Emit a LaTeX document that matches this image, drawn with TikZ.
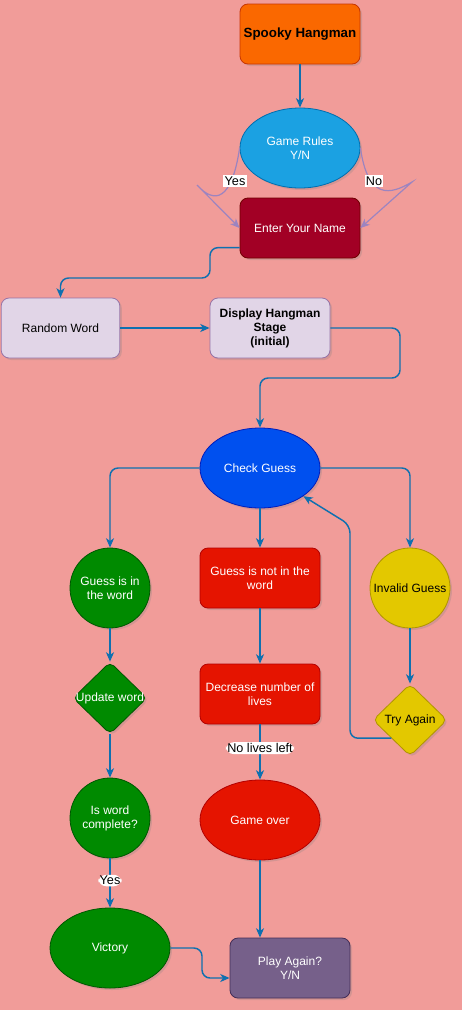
\documentclass[tikz,border=0pt]{standalone}
\usepackage{fontspec}
\setmainfont{Liberation Sans}
\usetikzlibrary{shapes.geometric,arrows.meta,shadows}

\definecolor{bgpink}{HTML}{F19C99}
\definecolor{edgeblue}{HTML}{0F70B0}
\definecolor{curvelilac}{HTML}{9C84C0}
\definecolor{orangefill}{HTML}{FA6800}
\definecolor{orangeline}{HTML}{C73500}
\definecolor{skyfill}{HTML}{1BA1E2}
\definecolor{skyline}{HTML}{006EAF}
\definecolor{crimsonfill}{HTML}{A20025}
\definecolor{crimsonline}{HTML}{6F0000}
\definecolor{lilacfill}{HTML}{E1D5E7}
\definecolor{lilacline}{HTML}{9673A6}
\definecolor{cobaltfill}{HTML}{0050EF}
\definecolor{cobaltline}{HTML}{001DBC}
\definecolor{greenfill}{HTML}{008A00}
\definecolor{greenline}{HTML}{005700}
\definecolor{redfill}{HTML}{E51400}
\definecolor{redline}{HTML}{B20000}
\definecolor{yellowfill}{HTML}{E3C800}
\definecolor{yellowline}{HTML}{B09500}
\definecolor{violetfill}{HTML}{76608A}
\definecolor{violetline}{HTML}{432D57}

\begin{document}
\begin{tikzpicture}[x=0.75pt,y=0.75pt,yscale=-1,xscale=1,
  shade/.style={drop shadow={shadow xshift=1.5pt,shadow yshift=-1.5pt,opacity=0.25}},
  box/.style={draw,shade,rounded corners=6pt,minimum width=90pt,minimum height=45pt,align=center,inner sep=1pt,line width=0.6pt,font=\fontsize{9}{10.5}\selectfont},
  oval/.style={ellipse,draw,shade,minimum width=90pt,minimum height=60pt,align=center,inner sep=1pt,line width=0.6pt,font=\fontsize{9}{10.5}\selectfont},
  disc/.style={circle,draw,shade,minimum size=60pt,align=center,inner sep=0pt,line width=0.6pt,font=\fontsize{9}{10.5}\selectfont},
  gem/.style={diamond,draw,shade,minimum width=55.5pt,minimum height=54pt,inner sep=0pt,rounded corners=4pt,line width=0.6pt},
  gemtext/.style={font=\fontsize{9}{10.5}\selectfont},
  flow/.style={draw=edgeblue,line width=1.1pt,rounded corners=6pt,-{Stealth[length=7pt,width=6pt,inset=2pt]}},
  curvy/.style={draw=curvelilac,line width=0.9pt,-{Stealth[length=7pt,width=6pt,inset=2pt]}},
  tag/.style={fill=white,inner sep=1pt,font=\fontsize{9.5}{11}\selectfont}]

% background
\fill[bgpink] (0,0) rectangle (462,1010);
\useasboundingbox (0,0) rectangle (462,1010);

% Start, rules and name
\node[box,fill=orangefill,draw=orangeline,font=\fontsize{10}{12}\selectfont\bfseries] (spooky) at (300,34) {Spooky Hangman};
\node[oval,fill=skyfill,draw=skyline,text=white] (rules) at (300,148) {Game Rules\\Y/N};
\node[box,fill=crimsonfill,draw=crimsonline,text=white] (name) at (300,228) {Enter Your Name};

% Word and stage
\node[box,fill=lilacfill,draw=lilacline,minimum width=89pt] (word) at (60.5,328) {Random Word};
\node[box,fill=lilacfill,draw=lilacline,font=\fontsize{9}{10.5}\selectfont\bfseries] (stage) at (270,328) {Display Hangman\\Stage\\(initial)};

% Guess check
\node[oval,fill=cobaltfill,draw=cobaltline,text=white] (check) at (260,468) {Check Guess};
\node[disc,fill=greenfill,draw=greenline,text=white] (inword) at (110,588) {Guess is in\\the word};
\node[box,fill=redfill,draw=redline,text=white] (notin) at (260,578) {Guess is not in the\\word};
\node[disc,fill=yellowfill,draw=yellowline] (invalid) at (410,588) {Invalid Guess};

% Second row
\node[gem,fill=greenfill,draw=greenline,label={[gemtext,text=white]center:Update word}] (update) at (110,698) {};
\node[box,fill=redfill,draw=redline,text=white] (lives) at (260,694) {Decrease number of\\lives};
\node[gem,fill=yellowfill,draw=yellowline,label={[gemtext]center:Try Again}] (retry) at (410,720) {};

% Endings
\node[disc,fill=greenfill,draw=greenline,text=white] (complete) at (110,818) {Is word\\complete?};
\node[oval,fill=redfill,draw=redline,text=white] (over) at (260,820) {Game over};
\node[oval,fill=greenfill,draw=greenline,text=white] (victory) at (110,948) {Victory};
\node[box,fill=violetfill,draw=violetline,text=white] (again) at (290,968) {Play Again?\\Y/N};

% bends of the connectors
\coordinate (yesbend) at (197,185);
\coordinate (nobend) at (412,182);
\coordinate (namebend) at (210,278);
\coordinate (stagebend) at (400,378);
\coordinate (retrybend) at (350,525);
\coordinate (victorybend) at (202,978);

% Connectors
\draw[flow] (spooky) -- (rules);
\draw[curvy] (rules.west) .. controls (232,200) and (215,205) .. (yesbend) -- (name.west);
\draw[curvy] (rules.east) .. controls (368,200) and (390,195) .. (nobend) -- (name.east);
\node[tag] (yestag) at (235,181) {Yes};
\node[tag] (notag) at (374,181) {No};
\draw[flow] (name.198) -| (namebend) -| (word.north);
\draw[flow] (word) -- (stage);
\draw[flow] (stage.east) -| (stagebend) -| (check.north);
\draw[flow] (check.west) -| (inword.north);
\draw[flow] (check) -- (notin);
\draw[flow] (check.east) -| (invalid.north);
\draw[flow] (inword) -- (update);
\draw[flow] (notin) -- (lives);
\draw[flow] (invalid) -- (retry);
\draw[flow] (retry.south west) -| (retrybend) -- (check.-33);
\draw[flow] (update) -- (complete);
\draw[flow] (lives) -- node[tag,pos=0.43] (livestag) {No lives left} (over);
\draw[flow] (complete) -- node[tag,pos=0.45] (completetag) {Yes} (victory);
\draw[flow] (over) -- (again.north -| over);
\draw[flow] (victory.east) -| (victorybend) -- (again.west |- victorybend);

\end{tikzpicture}
\end{document}
